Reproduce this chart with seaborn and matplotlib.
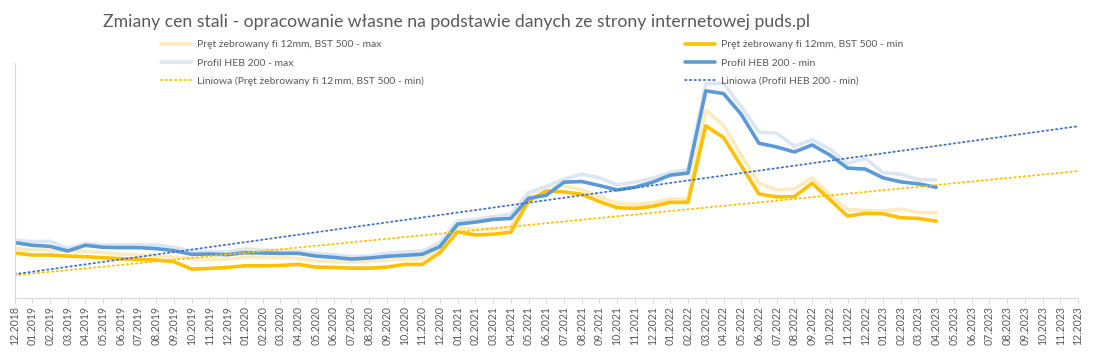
import numpy as np
import pandas as pd
import matplotlib
matplotlib.use("Agg")
import matplotlib.pyplot as plt
import seaborn as sns

# ---- data (PLN/t approx.) ----
months = list(pd.date_range("2018-12-01", "2023-12-01", freq="MS").strftime("%m.%Y"))

rebar_max = [2480, 2430, 2430, 2400, 2400, 2350, 2310, 2280, 2250, 2210,
             2180, 2150, 2160, 2210, 2210, 2210, 2180, 2110, 2080, 2070,
             2100, 2130, 2160, 2170, 2480, 3110, 3050, 3060, 3110, 4070,
             4320, 4340, 4220, 4020, 3820, 3790, 3840, 3950, 3950, 6600,
             6150, 5260, 4420, 4220, 4250, 4580, 4070, 3640, 3610, 3590,
             3650, 3550, 3540]
rebar_min = [2340, 2280, 2280, 2250, 2230, 2200, 2170, 2150, 2130, 2080,
             1860, 1880, 1910, 1960, 1960, 1970, 2000, 1920, 1910, 1890,
             1890, 1920, 2000, 2000, 2350, 2970, 2880, 2900, 2960, 3890,
             4190, 4160, 4090, 3870, 3690, 3670, 3730, 3850, 3850, 6130,
             5780, 4940, 4100, 4010, 4020, 4420, 3930, 3440, 3520, 3510,
             3390, 3370, 3290]
heb_max = [2720, 2680, 2690, 2480, 2630, 2580, 2580, 2580, 2580, 2510,
           2400, 2380, 2370, 2460, 2430, 2410, 2390, 2330, 2290, 2230,
           2260, 2330, 2370, 2400, 2650, 3300, 3340, 3420, 3500, 4140,
           4320, 4540, 4690, 4580, 4370, 4450, 4570, 4740, 4830, 7380,
           7400, 6700, 5940, 5910, 5520, 5710, 5440, 5010, 5160, 4730,
           4690, 4520, 4520]
heb_min = [2650, 2570, 2540, 2400, 2570, 2510, 2500, 2500, 2470, 2410,
           2300, 2310, 2290, 2350, 2340, 2330, 2330, 2250, 2210, 2160,
           2190, 2240, 2270, 2300, 2530, 3200, 3260, 3340, 3370, 3970,
           4060, 4450, 4470, 4350, 4220, 4300, 4450, 4660, 4720, 7170,
           7090, 6470, 5610, 5500, 5350, 5560, 5260, 4870, 4840, 4580,
           4460, 4400, 4300]

lab_rebar_max = "Pręt żebrowany fi 12mm, BST 500 - max"
lab_rebar_min = "Pręt żebrowany fi 12mm, BST 500 - min"
lab_heb_max = "Profil HEB 200 - max"
lab_heb_min = "Profil HEB 200 - min"
lab_tr_rebar = "Liniowa (Pręt żebrowany fi 12\u2009mm, BST 500 - min)"
lab_tr_heb = "Liniowa (Profil HEB 200 - min)"
title = "Zmiany cen stali - opracowanie własne na podstawie danych ze strony internetowej puds.pl"

# ---- style ----
sns.set_theme(style="white")
plt.rcParams['font.family'] = ['Lato', 'DejaVu Sans']
TXT = "#595959"
AXC = "#D9D9D9"

W, H = 1093, 355
fig = plt.figure(figsize=(W / 100, H / 100), dpi=100)
ax = fig.add_axes([14.5 / W, 1 - 298 / H, (1078 - 14.5) / W, (298 - 63) / H])

x = np.arange(len(rebar_min))
xt = np.arange(len(months))

lw = 2.6
sns.lineplot(x=x, y=rebar_max, color="#FDEBC0", lw=lw, ax=ax, label=lab_rebar_max)
sns.lineplot(x=x, y=rebar_min, color="#FFC000", lw=lw, ax=ax, label=lab_rebar_min)
sns.lineplot(x=x, y=heb_max, color="#DCE6F2", lw=lw, ax=ax, label=lab_heb_max)
sns.lineplot(x=x, y=heb_min, color="#5B9BD5", lw=lw, ax=ax, label=lab_heb_min)

c_r = np.polyfit(x, rebar_min, 1)
c_h = np.polyfit(x, heb_min, 1)
sns.lineplot(x=xt, y=np.polyval(c_r, xt), color="#FFC000", lw=1.3,
             linestyle=(0, (0.8, 1.8)), dash_capstyle="round", ax=ax, label=lab_tr_rebar)
sns.lineplot(x=xt, y=np.polyval(c_h, xt), color="#4472C4", lw=1.3,
             linestyle=(0, (0.8, 1.8)), dash_capstyle="round", ax=ax, label=lab_tr_heb)

ax.set_xlim(0, len(months) - 1)
ax.set_ylim(1000, 8000)
ax.set_xticks(xt)
ax.set_xticklabels(months, rotation=90, fontsize=7.6, color=TXT)
ax.set_yticks([])
ax.set_xlabel("")
ax.set_ylabel("")
ax.tick_params(axis="x", which="major", bottom=True, length=3.6, width=0.75,
               color=AXC, pad=2, direction="out")
for s in ["top", "right"]:
    ax.spines[s].set_visible(False)
for s in ["left", "bottom"]:
    ax.spines[s].set_color(AXC)
    ax.spines[s].set_linewidth(0.9)

handles, labels = ax.get_legend_handles_labels()
ax.get_legend().remove()
order = [0, 2, 4, 1, 3, 5]
leg = fig.legend([handles[i] for i in order], [labels[i] for i in order],
                 ncol=2, loc="upper left", bbox_to_anchor=(161 / W, 1 - 40 / H),
                 frameon=False, fontsize=7.5, handlelength=2.9, handletextpad=0.6,
                 columnspacing=25.0, labelspacing=0.86, borderpad=0, borderaxespad=0)
for t in leg.get_texts():
    t.set_color(TXT)

fig.text(456.5 / W, 1 - 22 / H, title, ha="center", va="center", fontsize=12.7, color=TXT)

fig.savefig("out.png", dpi=100)
